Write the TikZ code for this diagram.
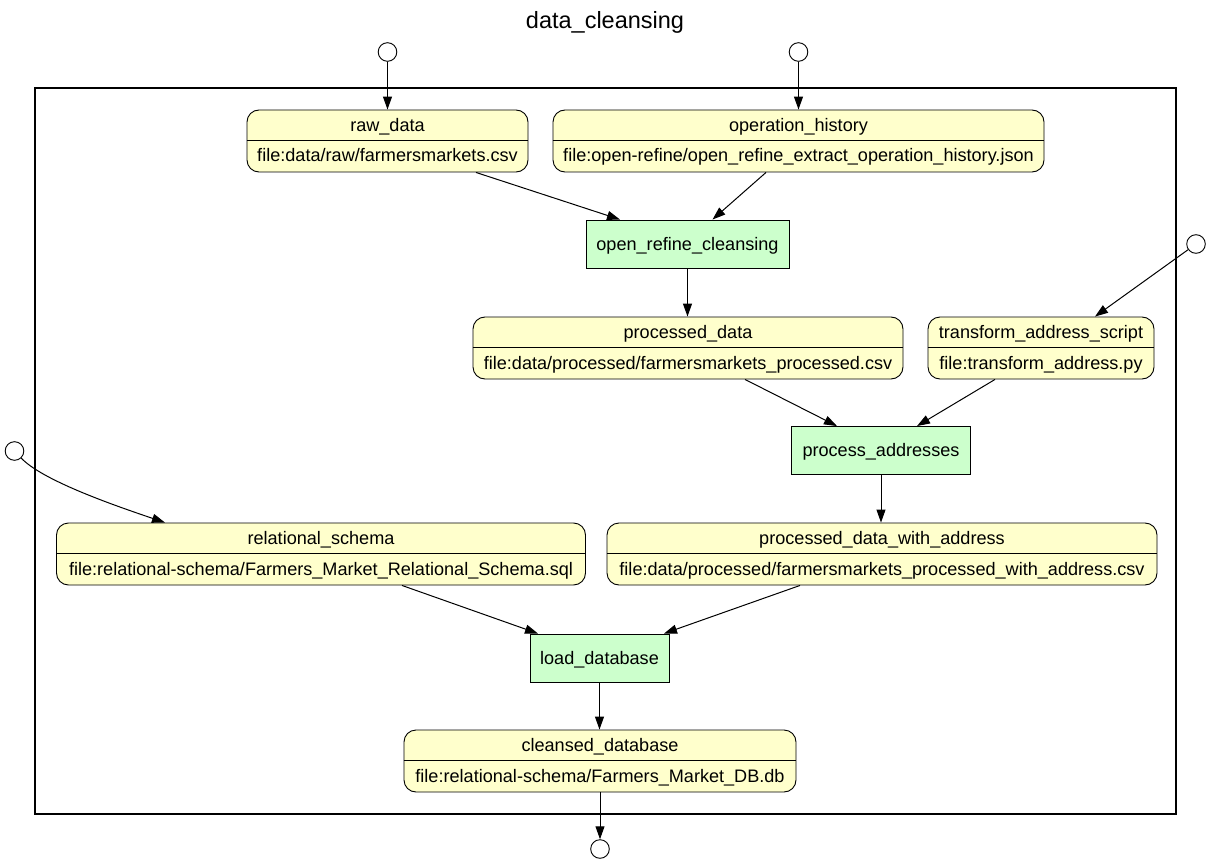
\documentclass[tikz,border=0pt]{standalone}
\usepackage{fontspec}
\setmainfont{Liberation Sans}
\usetikzlibrary{arrows.meta}
\definecolor{dfill}{HTML}{FFFFCC}
\definecolor{pfill}{HTML}{CCFFCC}
\tikzset{
  dbox/.style={draw, fill=dfill, rounded corners=12pt, minimum height=62pt, inner sep=0pt, line width=0.9pt},
  pbox/.style={draw, fill=pfill, minimum height=48pt, inner sep=0pt, line width=0.9pt,
     font=\fontsize{18.1}{22}\selectfont, text height=13.5pt, text depth=1.5pt},
  txt/.style={inner sep=0pt, anchor=base, font=\fontsize{18.1}{22}\selectfont},
  port/.style={draw, circle, fill=white, minimum size=18.6pt, inner sep=0pt, line width=0.9pt},
  edge/.style={line width=1pt, -{Triangle[length=13pt,width=9pt]}},
}
\newcommand\dnode[6]{%
  \node[dbox, minimum width=#4pt] (#1) at (#2,#3+31) {};
  \draw[line width=0.9pt] ([yshift=1pt]#1.west) -- ([yshift=1pt]#1.east);
  \node[txt] (#1-t) at (#2,#3+21.5) {#5};
  \node[txt] (#1-f) at (#2,#3+52) {#6};
}
\begin{document}
\begin{tikzpicture}[x=1pt,y=-1pt]
\useasboundingbox (0,0) rectangle (1211,864);
\node[font=\fontsize{23.5}{28}\selectfont, inner sep=0pt] (title) at (605,22) {data\_cleansing};
\node[draw, line width=2.3pt, minimum width=1141pt, minimum height=726pt, inner sep=0pt] (frame) at (605.5,451) {};

\dnode{raw}{387.5}{110}{281}{raw\_data}{file:data/raw/farmersmarkets.csv}
\dnode{op}{798.5}{110}{491}{operation\_history}{file:open-refine/open\_refine\_extract\_operation\_history.json}
\dnode{pd}{688}{317}{430}{processed\_data}{file:data/processed/farmersmarkets\_processed.csv}
\dnode{ta}{1041}{317}{226}{transform\_address\_script}{file:transform\_address.py}
\dnode{rs}{321}{523}{529}{relational\_schema}{file:relational-schema/Farmers\_Market\_Relational\_Schema.sql}
\dnode{pdwa}{882}{523}{550}{processed\_data\_with\_address}{file:data/processed/farmersmarkets\_processed\_with\_address.csv}
\dnode{cd}{600}{730}{392}{cleansed\_database}{file:relational-schema/Farmers\_Market\_DB.db}

\node[pbox, minimum width=203pt] (orc) at (687.5,244) {open\_refine\_cleansing};
\node[pbox, minimum width=179pt] (pa) at (881,450.5) {process\_addresses};
\node[pbox, minimum width=139pt] (ld) at (599.5,658) {load\_database};

\node[port] (c1) at (387.5,52) {};
\node[port] (c2) at (798.5,52) {};
\node[port] (c3) at (1196,244) {};
\node[port] (c4) at (14.5,451) {};
\node[port] (c5) at (600,849) {};

\draw[edge] (c1) -- (raw.north);
\draw[edge] (c2) -- (op.north);
\draw[edge] ([xshift=88.5pt]raw.south) -- ([xshift=-67.5pt]orc.north);
\draw[edge] ([xshift=-32.5pt]op.south) -- ([xshift=25pt]orc.north);
\draw[edge] (orc.south) -- (orc.south |- pd.north);
\draw[edge] (c3) -- ([xshift=54pt]ta.north);
\draw[edge] ([xshift=57pt]pd.south) -- ([xshift=-44pt]pa.north);
\draw[edge] ([xshift=-46pt]ta.south) -- ([xshift=36pt]pa.north);
\draw[edge] (pa.south) -- (pa.south |- pdwa.north);
\draw[edge] (c4) .. controls (42,480) and (110,504) .. ([xshift=-156pt]rs.north);
\draw[edge] ([xshift=81pt]rs.south) -- ([xshift=-61.5pt]ld.north);
\draw[edge] ([xshift=-82pt]pdwa.south) -- ([xshift=64.5pt]ld.north);
\draw[edge] (ld.south) -- (ld.south |- cd.north);
\draw[edge] (cd.south) -- (c5);
\end{tikzpicture}
\end{document}
